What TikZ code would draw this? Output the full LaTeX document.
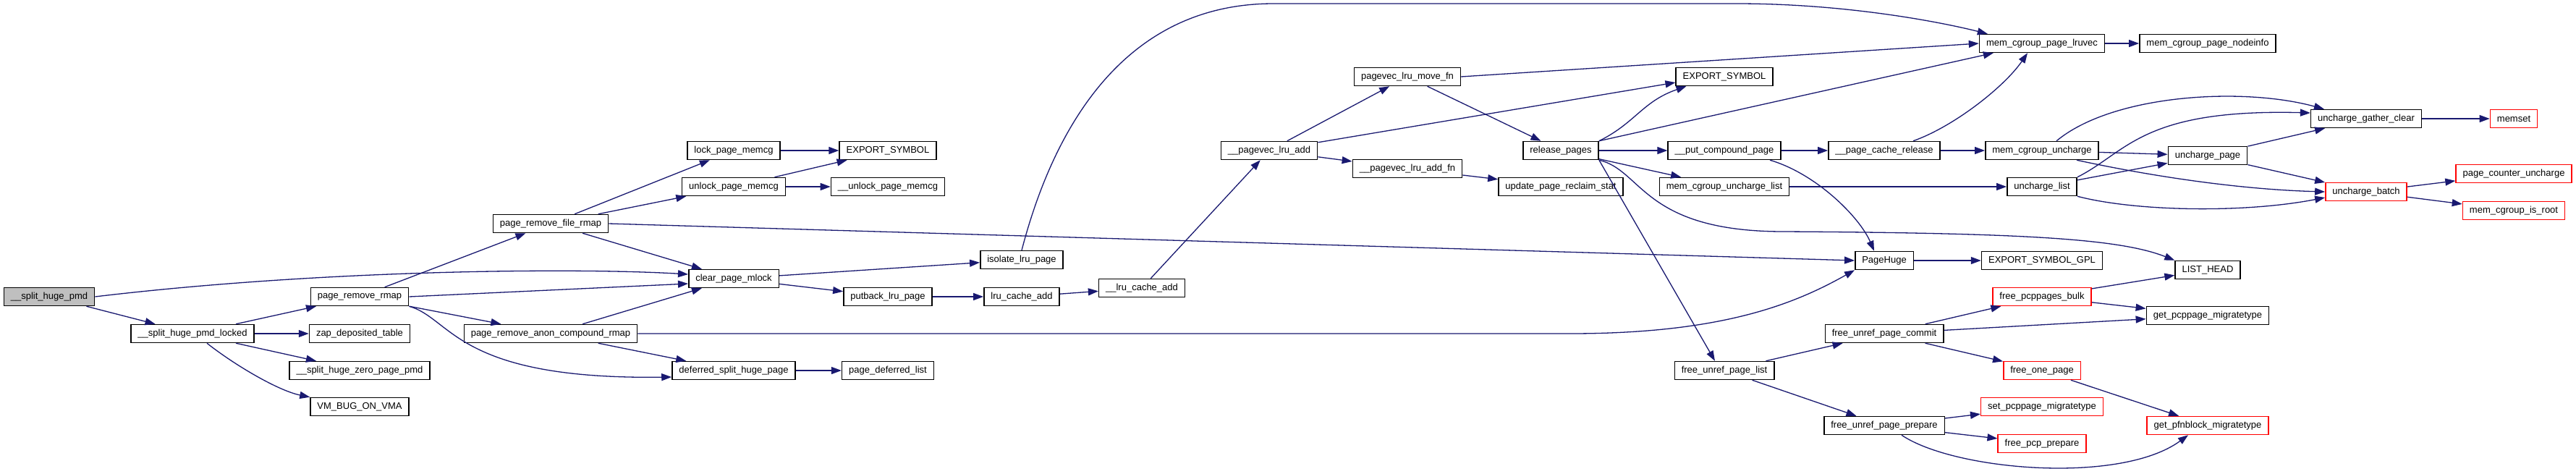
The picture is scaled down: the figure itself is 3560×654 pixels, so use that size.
\documentclass[tikz,border=0pt]{standalone}
\usepackage{fontspec}
\setmainfont{Liberation Sans}
\usetikzlibrary{arrows.meta}
\definecolor{edgeblue}{RGB}{25,25,112}
\definecolor{rootgray}{RGB}{191,191,191}

\begin{document}
\begin{tikzpicture}[x=1pt, y=-1pt]
\tikzset{fn/.style={draw, line width=1.5pt, fill=white, inner xsep=9.5pt, inner ysep=0pt, minimum height=25pt, font=\fontsize{13}{15}\selectfont}}
\tikzset{fnred/.style={fn, draw=red}, fnroot/.style={fn, fill=rootgray}}
\tikzset{edge/.style={edgeblue, line width=1.3pt, -{Triangle[length=14pt, width=10pt]}}}

\useasboundingbox (0,0) rectangle (3560,654);

\node[fnroot] (spmd) at (68,410) {\_\_split\_huge\_pmd};
\node[fn] (spmdl) at (266,461) {\_\_split\_huge\_pmd\_locked};
\node[fn] (prr) at (497,410) {page\_remove\_rmap};
\node[fn] (zap) at (497,461) {zap\_deposited\_table};
\node[fn] (szpp) at (497,512) {\_\_split\_huge\_zero\_page\_pmd};
\node[fn] (vmbug) at (497,562) {VM\_BUG\_ON\_VMA};
\node[fn] (prfr) at (761,309) {page\_remove\_file\_rmap};
\node[fn] (prac) at (761,461) {page\_remove\_anon\_compound\_rmap};
\node[fn] (lpm) at (1014,208) {lock\_page\_memcg};
\node[fn] (ulpm) at (1014,258) {unlock\_page\_memcg};
\node[fn] (cpm) at (1014,385) {clear\_page\_mlock};
\node[fn] (dshp) at (1014,512) {deferred\_split\_huge\_page};
\node[fn] (es1) at (1227,208) {EXPORT\_SYMBOL};
\node[fn] (uulpm) at (1227,258) {\_\_unlock\_page\_memcg};
\node[fn] (plp) at (1227,410) {putback\_lru\_page};
\node[fn] (pdl) at (1227,512) {page\_deferred\_list};
\node[fn] (ilp) at (1412,359) {isolate\_lru\_page};
\node[fn] (lca) at (1412,410) {lru\_cache\_add};
\node[fn] (ulca) at (1578,398) {\_\_lru\_cache\_add};
\node[fn] (pla) at (1754,208) {\_\_pagevec\_lru\_add};
\node[fn] (plmf) at (1945,106) {pagevec\_lru\_move\_fn};
\node[fn] (plaf) at (1945,233) {\_\_pagevec\_lru\_add\_fn};
\node[fn] (rp) at (2157,208) {release\_pages};
\node[fn] (upr) at (2157,258) {update\_page\_reclaim\_stat};
\node[fn] (es2) at (2383,106) {EXPORT\_SYMBOL};
\node[fn] (pcp) at (2383,208) {\_\_put\_compound\_page};
\node[fn] (mcul) at (2383,258) {mem\_cgroup\_uncharge\_list};
\node[fn] (fupl) at (2383,512) {free\_unref\_page\_list};
\node[fn] (pcr) at (2604,208) {\_\_page\_cache\_release};
\node[fn] (ph) at (2604,360) {PageHuge};
\node[fn] (fupc) at (2604,461) {free\_unref\_page\_commit};
\node[fn] (fupp) at (2604,588) {free\_unref\_page\_prepare};
\node[fn] (mcpl) at (2822,60) {mem\_cgroup\_page\_lruvec};
\node[fn] (mcu) at (2822,208) {mem\_cgroup\_uncharge};
\node[fn] (ul) at (2822,258) {uncharge\_list};
\node[fn] (esg) at (2822,360) {EXPORT\_SYMBOL\_GPL};
\node[fnred] (fpb) at (2822,410) {free\_pcppages\_bulk};
\node[fnred] (fop) at (2822,512) {free\_one\_page};
\node[fnred] (spm) at (2822,562) {set\_pcppage\_migratetype};
\node[fnred] (fpp) at (2822,613) {free\_pcp\_prepare};
\node[fn] (mcpn) at (3051,60) {mem\_cgroup\_page\_nodeinfo};
\node[fn] (up) at (3051,215) {uncharge\_page};
\node[fn] (lh) at (3051,373) {LIST\_HEAD};
\node[fn] (gpm) at (3051,436) {get\_pcppage\_migratetype};
\node[fnred] (gpfm) at (3051,588) {get\_pfnblock\_migratetype};
\node[fn] (ugc) at (3270,164) {uncharge\_gather\_clear};
\node[fnred] (ub) at (3270,265) {uncharge\_batch};
\node[fnred] (memset) at (3474,164) {memset};
\node[fnred] (pcu) at (3474,240) {page\_counter\_uncharge};
\node[fnred] (mcir) at (3474,291) {mem\_cgroup\_is\_root};

% calls out of the split path
\draw[edge] (spmd) -- (spmdl);
\draw[edge] (spmd.east) .. controls (450,372) and (800,370) .. ([yshift=6pt]cpm.west);
\draw[edge] (spmdl) -- (prr);
\draw[edge] (spmdl) -- (zap);
\draw[edge] (spmdl) -- (szpp);
\draw[edge] ([xshift=20pt]spmdl.south) .. controls (325,505) and (385,540) .. (vmbug.north west);
\draw[edge] (prr) -- (prfr);
\draw[edge] (prr.east) -- ([yshift=-7pt]cpm.west);
\draw[edge] (prr) -- (prac);
\draw[edge] (prr.south east) .. controls (625,440) and (630,525) .. ([yshift=-9pt]dshp.west);
\draw[edge] (prfr) -- (lpm);
\draw[edge] (prfr) -- (ulpm);
\draw[edge] (prfr) -- (cpm);
\draw[edge] (prfr.east) -- (ph.west);
\draw[edge] (prac) -- (cpm);
\draw[edge] (prac) -- (dshp);
\draw[edge] (prac.east) -- (2170,461) .. controls (2380,461) and (2480,420) .. (ph.south west);
\draw[edge] (lpm) -- (es1);
\draw[edge] (ulpm) -- (es1);
\draw[edge] (ulpm) -- (uulpm);
\draw[edge] (cpm) -- (ilp);
\draw[edge] (cpm) -- (plp);
\draw[edge] (plp) -- (lca);
\draw[edge] (lca) -- (ulca);
\draw[edge] (ulca) -- (pla);
\draw[edge] (dshp) -- (pdl);
\draw[edge] (ilp.north) .. controls (1450,200) and (1540,5) .. (1760,5) -- (2400,5) .. controls (2550,5) and (2680,30) .. ([xshift=12pt]mcpl.north west);

% pagevec and release
\draw[edge] (pla) -- (plmf);
\draw[edge] (pla) -- ([yshift=-8pt]es2.west);
\draw[edge] (pla) -- (plaf);
\draw[edge] (plmf) -- (rp);
\draw[edge] (plmf.east) -- (mcpl.west);
\draw[edge] (plaf) -- (upr);
\draw[edge] (rp.north east) .. controls (2260,170) and (2270,140) .. ([xshift=15pt]es2.south west);
\draw[edge] (rp.north east) -- ([xshift=20pt]mcpl.south west);
\draw[edge] (rp) -- (pcp);
\draw[edge] (rp) -- (mcul);
\draw[edge] (rp.south east) -- ([xshift=-13pt]fupl.north);
\draw[edge] (rp.south east) .. controls (2270,235) and (2270,320) .. (2465,320) .. controls (2800,322) and (2930,330) .. (lh.north west);
\draw[edge] (pcp) -- (pcr);
\draw[edge] ([xshift=63pt]pcp.south) .. controls (2510,240) and (2570,300) .. ([xshift=-14pt]ph.north);
\draw[edge] ([xshift=40pt]pcr.north) .. controls (2700,175) and (2770,120) .. ([xshift=-20pt]mcpl.south);
\draw[edge] (pcr) -- (mcu);
\draw[edge] (mcul) -- (ul);
\draw[edge] (mcpl) -- (mcpn);

% uncharge
\draw[edge] ([xshift=20pt]mcu.north) .. controls (2920,130) and (3100,120) .. ([xshift=19pt]ugc.north west);
\draw[edge] (mcu) -- (up);
\draw[edge] ([xshift=48pt]mcu.south) .. controls (2980,245) and (3100,262) .. (ub.west);
\draw[edge] (ul.north east) .. controls (2940,210) and (2960,150) .. ([yshift=8pt]ugc.west);
\draw[edge] (ul) -- (up);
\draw[edge] (ul.south east) .. controls (2950,292) and (3100,295) .. ([yshift=-8pt]ub.west);
\draw[edge] (up) -- (ugc);
\draw[edge] (up) -- (ub);
\draw[edge] (ugc) -- (memset);
\draw[edge] (ub) -- (pcu);
\draw[edge] (ub) -- (mcir);

% free path
\draw[edge] (ph) -- (esg);
\draw[edge] (fupl) -- (fupc);
\draw[edge] (fupl) -- (fupp);
\draw[edge] (fupc) -- (fpb);
\draw[edge] (fupc) -- (gpm);
\draw[edge] (fupc) -- (fop);
\draw[edge] (fpb) -- (lh);
\draw[edge] (fpb) -- (gpm);
\draw[edge] (fop) -- (gpfm);
\draw[edge] (fupp) -- (spm);
\draw[edge] (fupp) -- (fpp);
\draw[edge] ([xshift=24pt]fupp.south) .. controls (2700,650) and (2930,670) .. ([xshift=-27pt]gpfm.south);
\end{tikzpicture}
\end{document}
